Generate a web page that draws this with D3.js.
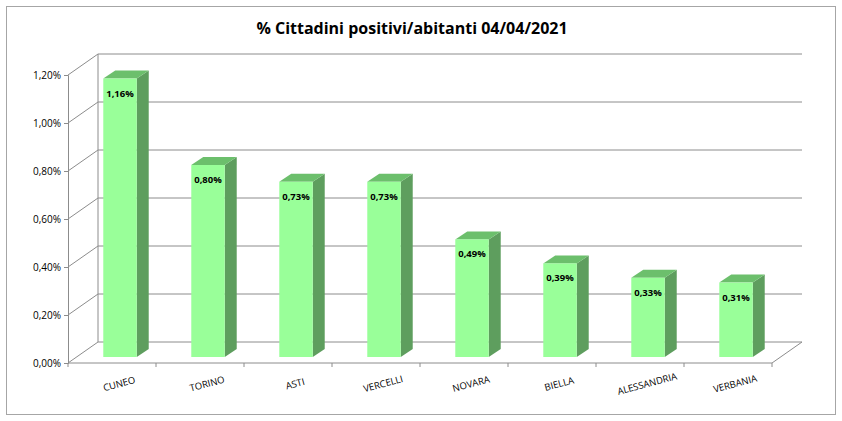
<!DOCTYPE html>
<html><head><meta charset="utf-8">
<script src="https://cdn.jsdelivr.net/npm/d3@7"></script>
<style>body{margin:0;background:#fff}</style>
</head><body>
<div id="chart"></div>
<script>
const categories = ["CUNEO","TORINO","ASTI","VERCELLI","NOVARA","BIELLA","ALESSANDRIA","VERBANIA"];
const values = [1.16,0.80,0.73,0.73,0.49,0.39,0.33,0.31];
const ticks = [0,0.2,0.4,0.6,0.8,1.0,1.2];
const fmt = v => v.toFixed(2).replace(".", ",") + "%";

const W = 842, H = 421;
const x0 = 68, x1 = 772, yBase = 363, yTop = 75;
const dx = 30, dy = -21;      // depth of back wall
const bdx = 12, bdy = -8;     // depth of bar side

const svg = d3.select("#chart").append("svg").attr("width", W).attr("height", H);
svg.append("rect").attr("x", 6.5).attr("y", 6.5).attr("width", 829).attr("height", 408)
    .attr("fill", "#fff").attr("stroke", "#a6a6a6");

svg.append("text").attr("x", 412).attr("y", 34).attr("text-anchor", "middle")
    .attr("font-family", "Open Sans, sans-serif").attr("font-weight", "bold").attr("font-size", 16)
    .text("% Cittadini positivi/abitanti 04/04/2021");

const y = d3.scaleLinear().domain([0, 1.2]).range([yBase, yTop]);
const x = d3.scaleBand().domain(categories).range([x0, x1]).paddingInner(0.62).paddingOuter(0.31);

// back wall gridlines + left wall diagonals
const grid = svg.append("g").attr("stroke", "#8c8c8c").attr("fill", "none");
ticks.forEach(t => {
    grid.append("path").attr("d", `M${x0},${y(t)}L${x0+dx},${y(t)+dy}L${x1+dx},${y(t)+dy}`);
});
grid.append("path").attr("d", `M${x0+dx},${y(0)+dy}V${y(1.2)+dy}`);
grid.append("path").attr("d", `M${x0},${yBase}H${x1}L${x1+dx},${yBase+dy}`);

// left axis
const ax = svg.append("g").attr("transform", `translate(${x0},0)`)
    .call(d3.axisLeft(y).tickValues(ticks).tickFormat(fmt).tickSize(4));
ax.select(".domain").attr("stroke", "#8c8c8c");
ax.selectAll(".tick line").attr("stroke", "#8c8c8c");
ax.selectAll("text").attr("font-family", "Open Sans, sans-serif").attr("font-size", 10).attr("fill", "#000");

// bottom tick marks between categories
const step = x.step();
for (let i = 0; i <= categories.length; i++) {
    svg.append("line").attr("x1", x0 + i*step).attr("x2", x0 + i*step)
        .attr("y1", yBase).attr("y2", yBase + 4).attr("stroke", "#8c8c8c");
}

// bars
const ox = 8, oy = -6;
const bars = svg.selectAll(".bar").data(values).join("g");
const bw = x.bandwidth();
bars.append("path").attr("fill", "#5e9e5e")
    .attr("d", (d, i) => {
        const l = x(categories[i]) + ox + bw, t = y(d) + oy, b = yBase + oy;
        return `M${l},${t}L${l+bdx},${t+bdy}L${l+bdx},${b+bdy}L${l},${b}Z`;
    });
bars.append("path").attr("fill", "#6cbf6c")
    .attr("d", (d, i) => {
        const l = x(categories[i]) + ox, t = y(d) + oy;
        return `M${l},${t}L${l+bdx},${t+bdy}L${l+bw+bdx},${t+bdy}L${l+bw},${t}Z`;
    });
bars.append("rect").attr("fill", "#99ff99")
    .attr("x", (d, i) => x(categories[i]) + ox)
    .attr("y", d => y(d) + oy)
    .attr("width", bw)
    .attr("height", d => yBase - y(d));
bars.append("text")
    .attr("x", (d, i) => x(categories[i]) + ox + bw/2)
    .attr("y", d => y(d) + oy + 18)
    .attr("text-anchor", "middle")
    .attr("font-family", "Open Sans, sans-serif").attr("font-weight", "bold").attr("font-size", 9.5)
    .text(fmt);

// category labels
svg.selectAll(".cat").data(categories).join("text")
    .attr("transform", d => `translate(${x(d) + bw/2 + 8},${yBase + 24}) rotate(-15)`)
    .attr("text-anchor", "middle")
    .attr("font-family", "Open Sans, sans-serif").attr("font-size", 9.5)
    .text(d => d);
</script>
</body></html>
